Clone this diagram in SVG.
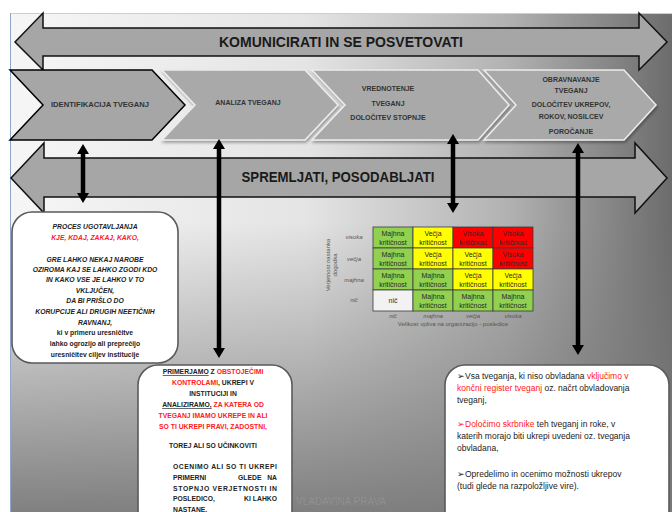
<svg xmlns="http://www.w3.org/2000/svg" width="672" height="512" viewBox="0 0 672 512">
<style>
.big{font-family:"Liberation Sans",Arial,sans-serif;font-weight:bold;font-size:15px;fill:#1a1a1a;text-anchor:middle}
.chv{font-family:"Liberation Sans",Arial,sans-serif;font-weight:bold;font-size:7px;fill:#333;text-anchor:middle}
.b1{font-family:"Liberation Sans",Arial,sans-serif;font-weight:bold;font-style:italic;font-size:6.8px;fill:#222;text-anchor:middle}
.b1n{font-family:"Liberation Sans",Arial,sans-serif;font-weight:bold;font-size:6.8px;fill:#222;text-anchor:middle}
.b2{font-family:"Liberation Sans",Arial,sans-serif;font-weight:bold;font-size:6.8px;fill:#222}
.b3{font-family:"Liberation Sans",Arial,sans-serif;font-size:8.5px;fill:#222}
.red{fill:#ff2020}
.cell{font-family:"Liberation Sans",Arial,sans-serif;font-size:7px;fill:#2a2a2a;text-anchor:middle}
.ax{font-family:"Liberation Sans",Arial,sans-serif;font-style:italic;font-size:6px;fill:#555;text-anchor:middle}
.axl{font-family:"Liberation Sans",Arial,sans-serif;font-size:6px;fill:#555;text-anchor:middle}
.arrowBand{fill:#a6a6a6;stroke:#111;stroke-width:1.5;stroke-linejoin:miter}
.chev{fill:#a9a9a9;stroke:#ececec;stroke-width:1.5;filter:url(#sh)}
.box{fill:#fff;stroke:#5a5a5a;stroke-width:1.6}
.conn{stroke:#000;stroke-width:4.5;fill:none;marker-start:url(#ah);marker-end:url(#ah)}
.g{fill:#92d050;stroke:#3a3a3a;stroke-width:0.8}
.y{fill:#ffff00;stroke:#3a3a3a;stroke-width:0.8}
.r{fill:#ff0000;stroke:#3a3a3a;stroke-width:0.8}
.w{fill:#f2f2f2;stroke:#3a3a3a;stroke-width:0.8}
</style>
<defs>
<linearGradient id="bgH" x1="0" y1="0" x2="1" y2="0">
<stop offset="0" stop-color="#f6f6f6"/>
<stop offset="0.45" stop-color="#e4e4e4"/>
<stop offset="0.75" stop-color="#b2b2b2"/>
<stop offset="1" stop-color="#6c6c6c"/>
</linearGradient>
<linearGradient id="bgV" x1="0" y1="0" x2="0" y2="1">
<stop offset="0" stop-color="#7a7a7a" stop-opacity="0"/>
<stop offset="0.42" stop-color="#7a7a7a" stop-opacity="0"/>
<stop offset="1" stop-color="#7a7a7a" stop-opacity="0.95"/>
</linearGradient>
<filter id="sh" x="-10%" y="-10%" width="120%" height="130%">
<feDropShadow dx="1" dy="2" stdDeviation="1.5" flood-color="#000" flood-opacity="0.35"/>
</filter>
<marker id="ah" viewBox="0 0 10 12" refX="2" refY="6" markerWidth="10" markerHeight="12" markerUnits="userSpaceOnUse" orient="auto-start-reverse">
<path d="M0,0 L10,6 L0,12 z" fill="#000"/>
</marker>
</defs>

<g id="background">
<rect x="10" y="13" width="662" height="499" fill="url(#bgH)"/>
<rect x="10" y="13" width="662" height="499" fill="url(#bgV)"/>
<line x1="10" y1="13.5" x2="672" y2="13.5" stroke="#c6cfdc" stroke-width="1"/>
<line x1="10.5" y1="13" x2="10.5" y2="512" stroke="#8ea6c8" stroke-width="1"/>
</g>

<g id="komunicirati">
<polygon class="arrowBand" points="15,42 43,13 43,28 639,28 639,13 667,42 639,70 639,56 43,56 43,70"/>
<text class="big" x="341" y="47" textLength="244" lengthAdjust="spacingAndGlyphs">KOMUNICIRATI IN SE POSVETOVATI</text>
</g>

<g id="spremljati">
<polygon class="arrowBand" points="11,178 44,143 44,158 635,158 635,143 667,178 635,213 635,197 44,197 44,213"/>
<text class="big" x="338" y="182" textLength="193" lengthAdjust="spacingAndGlyphs">SPREMLJATI, POSODABLJATI</text>
</g>

<g id="identifikacija">
<polygon points="10,70 152,70 185,105 152,140 10,140 43,105" fill="#a6a6a6" stroke="#000" stroke-width="1.5"/>
<text class="chv" x="100" y="107" textLength="98" lengthAdjust="spacingAndGlyphs">IDENTIFIKACIJA TVEGANJ</text>
</g>

<g id="analiza">
<polygon class="chev" points="162,70 305,70 338,105 305,140 162,140 195,105"/>
<text class="chv" x="248" y="105">ANALIZA TVEGANJ</text>
</g>

<g id="vrednotenje">
<polygon class="chev" points="312,70 478,70 509,105 478,140 312,140 345,105"/>
<text class="chv" x="388" y="91">VREDNOTENJE</text>
<text class="chv" x="388" y="106">TVEGANJ</text>
<text class="chv" x="388" y="120">DOLOČITEV STOPNJE</text>
</g>

<g id="obravnavanje">
<polygon class="chev" points="484,70 624,70 656,105 624,140 484,140 516,105"/>
<text class="chv" x="571" y="82">OBRAVNAVANJE</text>
<text class="chv" x="571" y="93">TVEGANJ</text>
<text class="chv" x="571" y="107">DOLOČITEV UKREPOV,</text>
<text class="chv" x="571" y="119">ROKOV, NOSILCEV</text>
<text class="chv" x="571" y="134">POROČANJE</text>
</g>

<g id="connectors">
<line class="conn" x1="83" y1="152" x2="83" y2="195"/>
<line class="conn" x1="219" y1="147" x2="219" y2="350"/>
<line class="conn" x1="453" y1="142" x2="453" y2="205"/>
<line class="conn" x1="578" y1="151" x2="578" y2="347"/>
</g>

<g id="box-identifikacija">
<rect class="box" x="12" y="212" width="166" height="151" rx="20"/>
<text class="b1" x="95" y="229">PROCES UGOTAVLJANJA</text>
<text class="b1 red" x="95" y="240">KJE, KDAJ, ZAKAJ, KAKO,</text>
<text class="b1" x="95" y="262">GRE LAHKO NEKAJ NAROBE</text>
<text class="b1" x="95" y="272">OZIROMA KAJ SE LAHKO ZGODI  KDO</text>
<text class="b1" x="95" y="282">IN KAKO VSE JE LAHKO V TO</text>
<text class="b1" x="95" y="292.5">VKLJUČEN,</text>
<text class="b1" x="95" y="303">DA BI PRIŠLO DO</text>
<text class="b1" x="95" y="314">KORUPCIJE ALI DRUGIH NEETIČNIH</text>
<text class="b1" x="95" y="324.5">RAVNANJ,</text>
<text class="b1n" x="95" y="335">ki v primeru uresničitve</text>
<text class="b1n" x="95" y="346">lahko ogrozijo ali preprečijo</text>
<text class="b1n" x="95" y="356.5">uresničitev  ciljev  institucije</text>
</g>

<g id="box-analiza">
<rect class="box" x="138" y="365" width="154" height="165" rx="20"/>
<text class="b2" x="213" y="374" text-anchor="middle"><tspan text-decoration="underline">PRIMERJAMO</tspan> Z <tspan class="red">OBSTOJEČIMI</tspan></text>
<text class="b2" x="213" y="385" text-anchor="middle"><tspan class="red">KONTROLAMI</tspan>, UKREPI V</text>
<text class="b2" x="213" y="396" text-anchor="middle">INSTITUCIJI IN</text>
<text class="b2" x="213" y="407" text-anchor="middle"><tspan text-decoration="underline">ANALIZIRAMO,</tspan> <tspan class="red">ZA KATERA OD</tspan></text>
<text class="b2 red" x="213" y="418" text-anchor="middle">TVEGANJ IMAMO UKREPE  IN ALI</text>
<text class="b2 red" x="213" y="429" text-anchor="middle">SO TI  UKREPI  PRAVI, ZADOSTNI,</text>
<text class="b2" x="213" y="448" text-anchor="middle">TOREJ ALI SO UČINKOVITI</text>
<text class="b2" x="173" y="469" textLength="104" lengthAdjust="spacing">OCENIMO ALI SO TI UKREPI</text>
<text class="b2" x="173" y="480">PRIMERNI</text>
<text class="b2" x="238" y="480">GLEDE</text>
<text class="b2" x="277" y="480" text-anchor="end">NA</text>
<text class="b2" x="173" y="490.5" textLength="104" lengthAdjust="spacing">STOPNJO VERJETNOSTI IN</text>
<text class="b2" x="173" y="501">POSLEDICO,</text>
<text class="b2" x="244" y="501">KI</text>
<text class="b2" x="277" y="501" text-anchor="end">LAHKO</text>
<text class="b2" x="173" y="511.5">NASTANE.</text>
</g>

<g id="matrika">
<rect class="g" x="373" y="227" width="40" height="21"/>
<rect class="y" x="413" y="227" width="40" height="21"/>
<rect class="r" x="453" y="227" width="40" height="21"/>
<rect class="r" x="493" y="227" width="40" height="21"/>
<rect class="g" x="373" y="248" width="40" height="21"/>
<rect class="y" x="413" y="248" width="40" height="21"/>
<rect class="y" x="453" y="248" width="40" height="21"/>
<rect class="r" x="493" y="248" width="40" height="21"/>
<rect class="g" x="373" y="269" width="40" height="21"/>
<rect class="g" x="413" y="269" width="40" height="21"/>
<rect class="y" x="453" y="269" width="40" height="21"/>
<rect class="y" x="493" y="269" width="40" height="21"/>
<rect class="w" x="373" y="290" width="40" height="21"/>
<rect class="g" x="413" y="290" width="40" height="21"/>
<rect class="g" x="453" y="290" width="40" height="21"/>
<rect class="g" x="493" y="290" width="40" height="21"/>
<text class="cell" x="393" y="236">Majhna</text><text class="cell" x="393" y="245">kritičnost</text>
<text class="cell" x="433" y="236">Večja</text><text class="cell" x="433" y="245">kritičnost</text>
<text class="cell" x="473" y="236">Visoka</text><text class="cell" x="473" y="245">kritičnost</text>
<text class="cell" x="513" y="236">Visoka</text><text class="cell" x="513" y="245">kritičnost</text>
<text class="cell" x="393" y="257">Majhna</text><text class="cell" x="393" y="266">kritičnost</text>
<text class="cell" x="433" y="257">Večja</text><text class="cell" x="433" y="266">kritičnost</text>
<text class="cell" x="473" y="257">Večja</text><text class="cell" x="473" y="266">kritičnost</text>
<text class="cell" x="513" y="257">Visoka</text><text class="cell" x="513" y="266">kritičnost</text>
<text class="cell" x="393" y="278">Majhna</text><text class="cell" x="393" y="287">kritičnost</text>
<text class="cell" x="433" y="278">Majhna</text><text class="cell" x="433" y="287">kritičnost</text>
<text class="cell" x="473" y="278">Večja</text><text class="cell" x="473" y="287">kritičnost</text>
<text class="cell" x="513" y="278">Večja</text><text class="cell" x="513" y="287">kritičnost</text>
<text class="cell" x="393" y="303">nič</text>
<text class="cell" x="433" y="299">Majhna</text><text class="cell" x="433" y="308">kritičnost</text>
<text class="cell" x="473" y="299">Majhna</text><text class="cell" x="473" y="308">kritičnost</text>
<text class="cell" x="513" y="299">Majhna</text><text class="cell" x="513" y="308">kritičnost</text>
<text class="ax" x="354" y="239">visoka</text>
<text class="ax" x="354" y="261">večja</text>
<text class="ax" x="354" y="282">majhna</text>
<text class="ax" x="354" y="302">nič</text>
<text class="ax" x="393" y="318">nič</text>
<text class="ax" x="433" y="318">majhna</text>
<text class="ax" x="473" y="318">večja</text>
<text class="ax" x="513" y="318">visoka</text>
<text class="axl" x="453" y="326">Velikost vpliva na organizacijo - posledice</text>
<text class="axl" transform="translate(330,265) rotate(-90)">Verjetnost nastanka</text>
<text class="axl" transform="translate(337,265) rotate(-90)">dogodka</text>
</g>

<g id="box-obravnavanje">
<rect class="box" x="445" y="365" width="224" height="165" rx="20"/>
<text class="b3" x="457" y="379">➢Vsa tveganja, ki niso obvladana <tspan class="red">vključimo v</tspan></text>
<text class="b3" x="457" y="391"><tspan class="red">končni register tveganj</tspan> oz.  načrt obvladovanja</text>
<text class="b3" x="457" y="403">tveganj,</text>
<text class="b3" x="457" y="427"><tspan class="red">➢Določimo skrbnike</tspan> teh tveganj in roke, v</text>
<text class="b3" x="457" y="439">katerih morajo biti ukrepi uvedeni oz. tveganja</text>
<text class="b3" x="457" y="451">obvladana,</text>
<text class="b3" x="457" y="477">➢Opredelimo in ocenimo možnosti ukrepov</text>
<text class="b3" x="457" y="489">(tudi glede na razpoložljive vire).</text>
</g>

<g id="watermark">
<text x="296" y="505" font-family="'Liberation Sans',Arial,sans-serif" font-size="10" fill="#fff" fill-opacity="0.13">VLADAVINA PRAVA</text>
</g>
</svg>
